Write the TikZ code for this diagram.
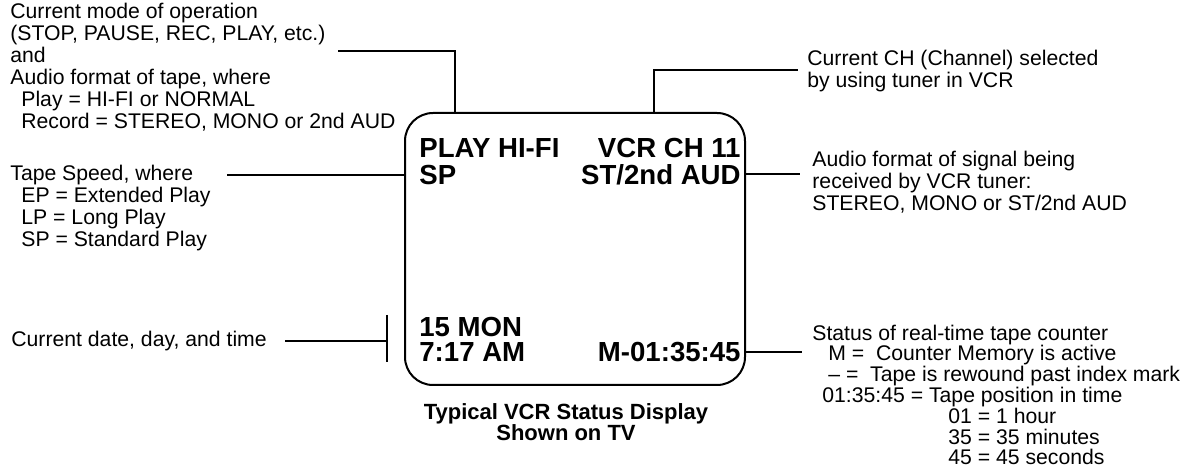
\documentclass[tikz,border=0pt]{standalone}
\usepackage{fontspec}
\setmainfont{Liberation Sans}
\usetikzlibrary{positioning}

\begin{document}
\begin{tikzpicture}[x=0.5pt, y=-0.5pt,
    note/.style={anchor=base west, align=left, inner sep=0pt, font=\fontsize{10.6}{11}\selectfont},
    readout/.style={inner sep=0pt, font=\fontsize{13.8}{13}\selectfont\bfseries},
    screen/.style={draw=black, line width=1pt, rounded corners=14pt, minimum width=170pt, minimum height=136pt, inner sep=0pt},
    wire/.style={draw=black, line width=0.7pt}
]
    \useasboundingbox (0,0) rectangle (1196,470);

    % TV screen with the status readout
    \node[screen] (screen) at (575,249) {};
    \node[readout, anchor=base west] (mode) at (419,158) {PLAY HI-FI};
    \node[readout, anchor=base west] (speed) at (419,185) {SP};
    \node[readout, anchor=base east] (chan) at (741,158) {VCR CH 11};
    \node[readout, anchor=base east] (signal) at (741,185) {ST/2nd AUD};
    \node[readout, anchor=base west] (date) at (419,337) {15 MON};
    \node[readout, anchor=base west] (clock) at (419,362) {7:17 AM};
    \node[readout, anchor=base east] (counter) at (741,362) {M-01:35:45};

    % caption (anchored on its last line)
    \node[inner sep=0pt, align=center, anchor=base, font=\fontsize{11}{10.5}\selectfont\bfseries] (caption) at (566,441)
        {Typical VCR Status Display\\Shown on TV};

    % Left-hand notes (anchored on their last line)
    \node[note] (modenote) at (10,129) {Current mode of operation\\
        (STOP, PAUSE, REC, PLAY, etc.)\\
        and\\
        Audio format of tape, where\\
        \hspace*{5.5pt}Play = HI-FI or NORMAL\\
        \hspace*{5.5pt}Record = STEREO, MONO or 2nd AUD};
    \node[note] (speednote) at (10,247) {Tape Speed, where\\
        \hspace*{5.5pt}EP = Extended Play\\
        \hspace*{5.5pt}LP = Long Play\\
        \hspace*{5.5pt}SP = Standard Play};
    \node[note] (datenote) at (11,347) {Current date, day, and time};

    % Right-hand notes
    \node[note] (channote) at (807,88) {Current CH (Channel) selected\\
        by using tuner in VCR};
    \node[note] (signalnote) at (812,211) {Audio format of signal being\\
        received by VCR tuner:\\
        STEREO, MONO or ST/2nd AUD};
    \node[note, font=\fontsize{10.6}{10.4}\selectfont] (counternote) at (812,465) {Status of real-time tape counter\\
        \hspace*{8pt}M =\ \ Counter Memory is active\\
        \hspace*{8pt}– =\ \ Tape is rewound past index mark\\
        \hspace*{5pt}01:35:45 = Tape position in time\\
        \hspace*{68pt}01 = 1 hour\\
        \hspace*{68pt}35 = 35 minutes\\
        \hspace*{68pt}45 = 45 seconds};

    % Leader lines
    \coordinate (modeA) at (338,51);
    \coordinate (modeX) at (455,0);
    \draw[wire] (modeA) -| (modeX |- screen.north);

    \coordinate (chanA) at (798,70);
    \coordinate (chanX) at (654,0);
    \draw[wire] (chanX |- screen.north) |- (chanA);

    \coordinate (speedA) at (227,175);
    \draw[wire] (speedA) -- (speedA -| screen.west);

    \coordinate (signalA) at (800,174);
    \draw[wire] (signalA -| screen.east) -- (signalA);

    \coordinate (dateA) at (285,341);
    \coordinate (dateB) at (387,341);
    \coordinate (dateT) at (387,315);
    \coordinate (dateU) at (387,362);
    \draw[wire] (dateA) -- (dateB);
    \draw[wire] (dateT) -- (dateU);

    \coordinate (counterA) at (802,352);
    \draw[wire] (counterA -| screen.east) -- (counterA);
\end{tikzpicture}
\end{document}
